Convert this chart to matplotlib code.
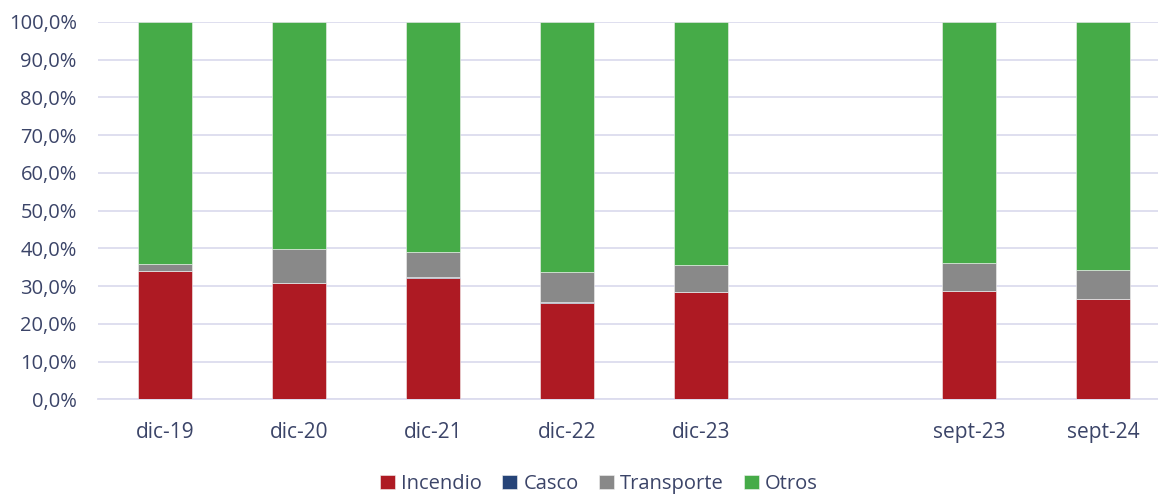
import matplotlib.pyplot as plt
from matplotlib.ticker import FuncFormatter
import numpy as np

plt.rcParams['font.family'] = ['Open Sans', 'DejaVu Sans']

# data (share of total, %)
categories = ['dic-19', 'dic-20', 'dic-21', 'dic-22', 'dic-23', '', 'sept-23', 'sept-24']
incendio = [34.0, 30.7, 32.2, 25.6, 28.4, 0, 28.6, 26.5]
casco = [0.1, 0.1, 0.1, 0.1, 0.1, 0, 0.1, 0.1]
transporte = [1.7, 9.0, 6.7, 8.0, 7.0, 0, 7.5, 7.7]
otros = [64.2, 60.2, 61.0, 66.3, 64.5, 0, 63.8, 65.7]

text_col = '#3b4468'
grid_col = '#dcdcee'
colors = {'Incendio': '#ae1a23', 'Casco': '#264478', 'Transporte': '#898989', 'Otros': '#46ab48'}

fig = plt.figure(figsize=(11.58, 4.95), dpi=100)
ax = fig.add_axes([97.7 / 1158, 1 - 399.3 / 495, 1 - 97.7 / 1158, (399.3 - 22) / 495])

x = np.arange(len(categories))
bottom = np.zeros(len(categories))
for name, vals in [('Incendio', incendio), ('Casco', casco), ('Transporte', transporte), ('Otros', otros)]:
    vals = np.array(vals)
    ax.bar(x, vals, 0.4, bottom=bottom, color=colors[name], label=name,
           edgecolor='#f2f2f2', linewidth=0.4, zorder=3)
    bottom += vals

ax.set_ylim(0, 100)
ax.set_xlim(-0.5, 7.41)
ax.set_yticks(np.arange(0, 101, 10))
ax.yaxis.set_major_formatter(FuncFormatter(lambda v, p: f'{v:.1f}%'.replace('.', ',')))
ax.set_xticks(x)
ax.set_xticklabels(categories)
ax.grid(axis='y', color=grid_col, linewidth=1.3, zorder=0)
for s in ['top', 'right', 'left']:
    ax.spines[s].set_visible(False)
ax.spines['bottom'].set_color(grid_col)
ax.spines['bottom'].set_linewidth(1.3)
ax.tick_params(axis='y', length=0, pad=15, labelsize=14.5, labelcolor=text_col)
ax.tick_params(axis='x', length=0, pad=16, labelsize=15, labelcolor=text_col)

fig.legend(loc='center', bbox_to_anchor=(599 / 1158, 1 - 484 / 495), ncol=4, frameon=False,
           fontsize=14.5, labelcolor=text_col, handlelength=0.75, handleheight=0.75,
           handletextpad=0.3, columnspacing=1.0)

fig.savefig('out.png', dpi=100)
